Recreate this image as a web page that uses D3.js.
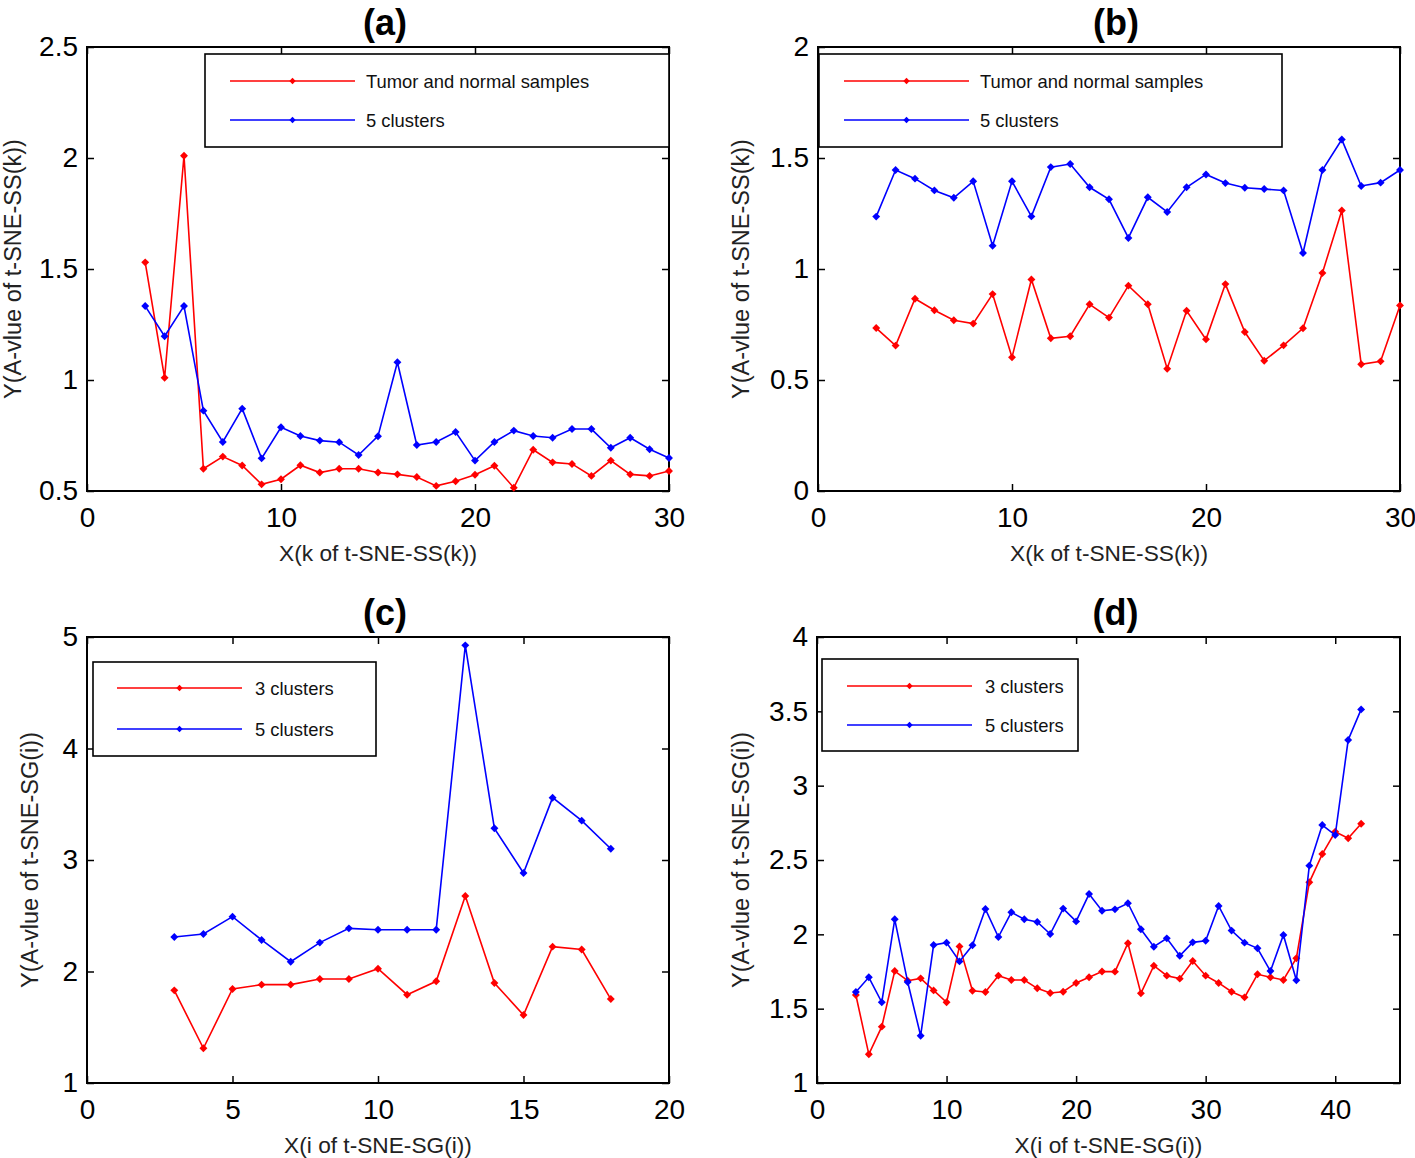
<!DOCTYPE html>
<html>
<head>
<meta charset="utf-8">
<script src="https://cdn.jsdelivr.net/npm/d3@7"></script>
<style>
html,body{margin:0;padding:0;background:#fff;}
svg{display:block;font-family:Arial,"Liberation Sans",Helvetica,sans-serif;}
</style>
</head>
<body>
<svg id="chart" width="1415" height="1158"></svg>
<script>
// ---------- data ----------
const panelTitles = ["(a)", "(b)", "(c)", "(d)"];
const xLabels = ["X(k of t-SNE-SS(k))", "X(k of t-SNE-SS(k))", "X(i of t-SNE-SG(i))", "X(i of t-SNE-SG(i))"];
const yLabels = ["Y(A-vlue of t-SNE-SS(k))", "Y(A-vlue of t-SNE-SS(k))", "Y(A-vlue of t-SNE-SG(i))", "Y(A-vlue of t-SNE-SG(i))"];
const legendA = ["Tumor and normal samples", "5 clusters"];
const legendC = ["3 clusters", "5 clusters"];

const kSS = [3,4,5,6,7,8,9,10,11,12,13,14,15,16,17,18,19,20,21,22,23,24,25,26,27,28,29,30];
const aRed = [1.53,1.01,2.01,0.60,0.655,0.615,0.53,0.553,0.616,0.583,0.60,0.60,0.583,0.575,0.563,0.523,0.544,0.573,0.614,0.515,0.686,0.629,0.622,0.568,0.637,0.575,0.568,0.59];
const aBlue = [1.333,1.197,1.333,0.862,0.721,0.871,0.647,0.787,0.748,0.727,0.72,0.662,0.747,1.08,0.707,0.721,0.766,0.637,0.721,0.772,0.748,0.74,0.779,0.779,0.695,0.74,0.688,0.649];
const bRed = [0.734,0.655,0.866,0.814,0.769,0.754,0.887,0.602,0.953,0.688,0.697,0.841,0.781,0.925,0.841,0.551,0.812,0.683,0.932,0.716,0.587,0.656,0.733,0.982,1.264,0.571,0.584,0.836];
const bBlue = [1.236,1.446,1.407,1.354,1.321,1.395,1.105,1.395,1.237,1.459,1.473,1.368,1.314,1.14,1.323,1.257,1.368,1.426,1.387,1.366,1.36,1.354,1.072,1.446,1.583,1.374,1.389,1.446];

const iSGc = [3,4,5,6,7,8,9,10,11,12,13,14,15,16,17,18];
const cRed = [1.831,1.311,1.843,1.882,1.882,1.933,1.933,2.025,1.792,1.912,2.677,1.897,1.61,2.223,2.197,1.753];
const cBlue = [2.309,2.336,2.492,2.283,2.088,2.259,2.387,2.375,2.375,2.375,4.925,3.284,2.883,3.559,3.353,3.101];

const iSGd = [3,4,5,6,7,8,9,10,11,12,13,14,15,16,17,18,19,20,21,22,23,24,25,26,27,28,29,30,31,32,33,34,35,36,37,38,39,40,41,42];
const dRed = [1.592,1.193,1.379,1.753,1.688,1.704,1.623,1.543,1.919,1.621,1.612,1.722,1.693,1.693,1.637,1.605,1.614,1.673,1.711,1.75,1.749,1.94,1.603,1.789,1.722,1.702,1.821,1.722,1.673,1.614,1.576,1.731,1.711,1.693,1.839,2.35,2.54,2.69,2.646,2.744];
const dBlue = [1.612,1.711,1.543,2.101,1.679,1.318,1.928,1.944,1.818,1.926,2.17,1.982,2.148,2.101,2.083,2.002,2.173,2.087,2.271,2.159,2.168,2.209,2.034,1.917,1.973,1.856,1.946,1.957,2.191,2.025,1.944,1.906,1.753,1.996,1.691,2.462,2.735,2.668,3.307,3.513];

const xTicksAB = [0,10,20,30];
const xTicksC = [0,5,10,15,20];
const xTicksD = [0,10,20,30,40];
const yTicksA = [0.5,1,1.5,2,2.5];
const yTicksB = [0,0.5,1,1.5,2];
const yTicksC = [1,2,3,4,5];
const yTicksD = [1,1.5,2,2.5,3,3.5,4];

// ---------- layout ----------
const panels = [
  {title:panelTitles[0], xl:xLabels[0], yl:yLabels[0], x:kSS, s:[aRed,aBlue], leg:legendA,
   box:[87,669,47,491], xd:[0,30], yd:[0.5,2.5], xt:xTicksAB, yt:yTicksA, ylx:13,
   lg:{x:205,y:54,w:464,h:93,lx0:230,lx1:355,tx:366,r1:81,r2:120}},
  {title:panelTitles[1], xl:xLabels[1], yl:yLabels[1], x:kSS, s:[bRed,bBlue], leg:legendA,
   box:[818,1400,47,491], xd:[0,30], yd:[0,2], xt:xTicksAB, yt:yTicksB, ylx:741,
   lg:{x:819,y:54,w:463,h:93,lx0:844,lx1:969,tx:980,r1:81,r2:120}},
  {title:panelTitles[2], xl:xLabels[2], yl:yLabels[2], x:iSGc, s:[cRed,cBlue], leg:legendC,
   box:[87,669,637,1083], xd:[0,20], yd:[1,5], xt:xTicksC, yt:yTicksC, ylx:30,
   lg:{x:93,y:662,w:283,h:94,lx0:117,lx1:242,tx:255,r1:688,r2:729}},
  {title:panelTitles[3], xl:xLabels[3], yl:yLabels[3], x:iSGd, s:[dRed,dBlue], leg:legendC,
   box:[817,1400,637,1083], xd:[0,45], yd:[1,4], xt:xTicksD, yt:yTicksD, ylx:741,
   lg:{x:822,y:659,w:256,h:92,lx0:847,lx1:972,tx:985,r1:686,r2:725}}
];
const colors = ["#ff0000", "#0000ff"];
const svg = d3.select("#chart");
const diamond = d3.symbol().type(d3.symbolDiamond2).size(40);

panels.forEach(p => {
  const [L,R,T,B] = p.box;
  const x = d3.scaleLinear().domain(p.xd).range([L,R]);
  const y = d3.scaleLinear().domain(p.yd).range([B,T]);
  const g = svg.append("g");

  // axes
  const ax = (sel) => sel.call(s => s.select(".domain").remove())
     .call(s => s.selectAll("line").attr("stroke","#000").attr("stroke-width",1.5))
     .call(s => s.selectAll("text").attr("fill","#000").attr("font-size",28).attr("font-family","Arial, 'Liberation Sans', sans-serif"));
  g.append("g").attr("transform",`translate(0,${B})`)
    .call(d3.axisBottom(x).tickValues(p.xt).tickFormat(d3.format("d")).tickSizeInner(-7).tickSizeOuter(0).tickPadding(16)).call(ax);
  g.append("g").attr("transform",`translate(0,${T})`)
    .call(d3.axisTop(x).tickValues(p.xt).tickFormat("").tickSizeInner(-7).tickSizeOuter(0)).call(ax);
  g.append("g").attr("transform",`translate(${L},0)`)
    .call(d3.axisLeft(y).tickValues(p.yt).tickFormat(d => String(d)).tickSizeInner(-7).tickSizeOuter(0).tickPadding(9)).call(ax);
  g.append("g").attr("transform",`translate(${R},0)`)
    .call(d3.axisRight(y).tickValues(p.yt).tickFormat("").tickSizeInner(-7).tickSizeOuter(0)).call(ax);

  g.append("rect").attr("x",L).attr("y",T).attr("width",R-L).attr("height",B-T)
    .attr("fill","none").attr("stroke","#000").attr("stroke-width",2);

  // series
  p.s.forEach((vals, si) => {
    const pts = p.x.map((xv,i) => [xv, vals[i]]);
    g.append("path").datum(pts)
      .attr("fill","none").attr("stroke",colors[si]).attr("stroke-width",1.6)
      .attr("d", d3.line().x(d => x(d[0])).y(d => y(d[1])));
    g.selectAll(null).data(pts).enter().append("path")
      .attr("d", diamond).attr("fill",colors[si])
      .attr("transform", d => `translate(${x(d[0])},${y(d[1])})`);
  });

  // legend
  const lg = p.lg;
  g.append("rect").attr("x",lg.x).attr("y",lg.y).attr("width",lg.w).attr("height",lg.h)
    .attr("fill","#fff").attr("stroke","#000").attr("stroke-width",1.6);
  [lg.r1, lg.r2].forEach((ry, si) => {
    g.append("line").attr("x1",lg.lx0).attr("x2",lg.lx1).attr("y1",ry).attr("y2",ry)
      .attr("stroke",colors[si]).attr("stroke-width",1.6);
    g.append("path").attr("d", d3.symbol().type(d3.symbolDiamond2).size(26)).attr("fill",colors[si])
      .attr("transform",`translate(${(lg.lx0+lg.lx1)/2},${ry})`);
    g.append("text").attr("x",lg.tx).attr("y",ry+7).attr("font-size",18.4).attr("fill","#111")
      .text(p.leg[si]);
  });

  // titles and labels
  g.append("text").attr("x",(L+R)/2+7).attr("y",T-12).attr("text-anchor","middle")
    .attr("font-size",36).attr("font-weight","bold").text(p.title);
  g.append("text").attr("x",(L+R)/2).attr("y",B+70).attr("text-anchor","middle")
    .attr("font-size",22.7).attr("fill","#222").text(p.xl);
  g.append("text").attr("transform",`translate(${p.ylx},${(T+B)/2}) rotate(-90)`)
    .attr("text-anchor","middle").attr("dy","0.35em")
    .attr("font-size",23.5).attr("fill","#222").text(p.yl);
});
</script>
</body>
</html>
